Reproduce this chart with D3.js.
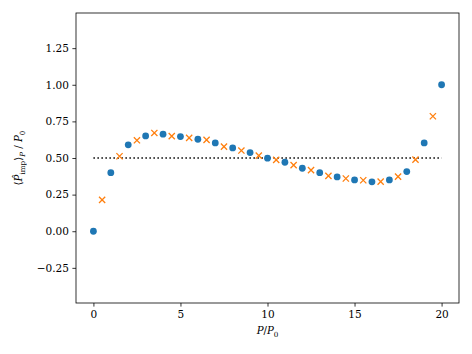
<!DOCTYPE html>
<html>
<head>
<meta charset="utf-8">
<script src="https://cdn.jsdelivr.net/npm/d3@7"></script>
<style>
  body { margin: 0; background: #fff; }
  svg text { font-family: "DejaVu Serif", serif; fill: #000; }
</style>
</head>
<body>
<div id="chart"></div>
<script>
// data
const xBlue = [0, 1, 2, 3, 4, 5, 6, 7, 8, 9, 10, 11, 12, 13, 14, 15, 16, 17, 18, 19, 20];
const yBlue = [0.00, 0.40, 0.59, 0.651, 0.663, 0.646, 0.628, 0.603, 0.569, 0.537, 0.499,
               0.471, 0.43, 0.40, 0.371, 0.35, 0.337, 0.35, 0.407, 0.603, 1.00];
const xOrange = [0.5, 1.5, 2.5, 3.5, 4.5, 5.5, 6.5, 7.5, 8.5, 9.5, 10.5, 11.5, 12.5, 13.5,
                 14.5, 15.5, 16.5, 17.5, 18.5, 19.5];
const yOrange = [0.214, 0.512, 0.621, 0.671, 0.649, 0.637, 0.624, 0.578, 0.551, 0.516, 0.487,
                 0.451, 0.417, 0.378, 0.36, 0.348, 0.339, 0.373, 0.489, 0.785];
const refLine = [[0, 0.5], [20, 0.5]];
const xTicks = [0, 5, 10, 15, 20];
const yTicks = [-0.25, 0, 0.25, 0.5, 0.75, 1.0, 1.25];

const width = 472, height = 354;
const margin = {left: 76, right: 13, top: 13, bottom: 51};

const svg = d3.select('#chart').append('svg')
    .attr('width', width)
    .attr('height', height);

const x = d3.scaleLinear().domain([-1, 21]).range([margin.left, width - margin.right]);
const y = d3.scaleLinear().domain([-0.49, 1.49]).range([height - margin.bottom, margin.top]);

const fmtY = d => d3.format('.2f')(d).replace('-', '\u2212');

// axes
const xAxis = svg.append('g')
    .attr('transform', `translate(0,${height - margin.bottom})`)
    .call(d3.axisBottom(x).tickValues(xTicks).tickSize(3.6).tickPadding(3.5));
const yAxis = svg.append('g')
    .attr('transform', `translate(${margin.left},0)`)
    .call(d3.axisLeft(y).tickValues(yTicks).tickFormat(fmtY).tickSize(3.6).tickPadding(3.5));

[xAxis, yAxis].forEach(g => {
    g.attr('font-family', null).attr('font-size', null);
    g.select('.domain').remove();
    g.selectAll('.tick line').attr('stroke', '#000').attr('stroke-width', 0.8);
    g.selectAll('.tick text').style('font-size', '10.5px').style('font-family', '"DejaVu Serif", serif');
});

// frame
svg.append('rect')
    .attr('x', margin.left)
    .attr('y', margin.top)
    .attr('width', width - margin.left - margin.right)
    .attr('height', height - margin.top - margin.bottom)
    .attr('fill', 'none')
    .attr('stroke', '#000')
    .attr('stroke-width', 0.8);

// dotted 0.5 line
svg.append('path')
    .datum(refLine)
    .attr('d', d3.line().x(d => x(d[0])).y(d => y(d[1])))
    .attr('fill', 'none')
    .attr('stroke', '#000')
    .attr('stroke-width', 1.5)
    .attr('stroke-dasharray', '1.5,2.5');

// blue circles
svg.append('g')
    .selectAll('circle')
    .data(xBlue.map((v, i) => [v, yBlue[i]]))
    .join('circle')
    .attr('cx', d => x(d[0]))
    .attr('cy', d => y(d[1]))
    .attr('r', 3.4)
    .attr('fill', '#1f77b4');

// orange crosses
const s = 3.1;
svg.append('g')
    .selectAll('path')
    .data(xOrange.map((v, i) => [v, yOrange[i]]))
    .join('path')
    .attr('d', d => {
        const cx = x(d[0]), cy = y(d[1]);
        return `M${cx - s},${cy - s}L${cx + s},${cy + s}M${cx - s},${cy + s}L${cx + s},${cy - s}`;
    })
    .attr('stroke', '#ff7f0e')
    .attr('stroke-width', 1.3)
    .attr('fill', 'none');

// x label
const xl = svg.append('text')
    .attr('x', (margin.left + width - margin.right) / 2)
    .attr('y', 334)
    .attr('text-anchor', 'middle')
    .style('font-size', '10.2px');
xl.append('tspan').attr('font-style', 'italic').text('P');
xl.append('tspan').text('/');
xl.append('tspan').attr('font-style', 'italic').text('P');
xl.append('tspan').attr('dy', 2.5).style('font-size', '7.2px').text('0');

// y label
const yl = svg.append('text')
    .attr('transform', `translate(22,${(margin.top + height - margin.bottom) / 2}) rotate(-90)`)
    .attr('text-anchor', 'middle')
    .style('font-size', '10.2px');
yl.append('tspan').text('\u27E8');
yl.append('tspan').attr('font-style', 'italic').text('P\u0302');
yl.append('tspan').attr('dy', 2.5).style('font-size', '7.2px').text('imp');
yl.append('tspan').attr('dy', -2.5).text('\u27E9');
yl.append('tspan').attr('dy', 2.5).attr('font-style', 'italic').style('font-size', '7.2px').text('P');
yl.append('tspan').attr('dy', -2.5).text(' / ');
yl.append('tspan').attr('font-style', 'italic').text('P');
yl.append('tspan').attr('dy', 2.5).style('font-size', '7.2px').text('0');
</script>
</body>
</html>
